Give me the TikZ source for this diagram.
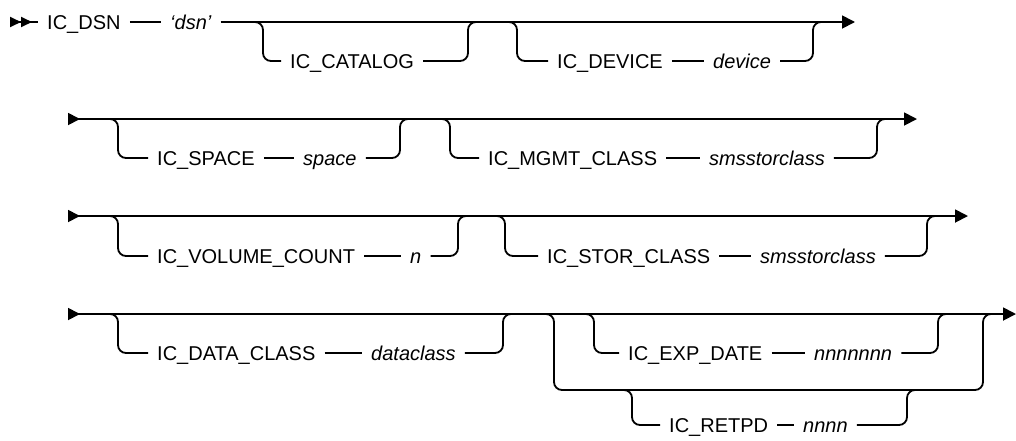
\documentclass[tikz,border=0pt]{standalone}
\usepackage{fontspec}
\setmainfont{Liberation Sans}
\usetikzlibrary{arrows.meta}

\tikzset{
  rail/.style={line width=1.8pt, rounded corners=8pt},
  keyword/.style={anchor=west, inner xsep=9pt, inner ysep=0pt,
    text height=15pt, text depth=1pt, font=\fontsize{20}{24}\selectfont},
  param/.style={keyword, font=\fontsize{20}{24}\selectfont\itshape},
  tipend/.style={-{Triangle[length=13pt,width=13pt]}},
  tipboth/.style={{Triangle[reversed,length=12pt,width=12pt]}-{Triangle[length=13pt,width=13pt]}},
  tipfirst/.style={{Triangle[reversed,length=11pt,width=10pt]Triangle[reversed,length=11pt,width=10pt]}-}
}

\begin{document}
\begin{tikzpicture}[x=1pt,y=-1pt]
\useasboundingbox (0,0) rectangle (1016,440);

% row 1
\coordinate (r1s) at (10,22);
\coordinate (r1e) at (855,22);
\node[keyword] (kwdsn) at (38,22) {IC\_DSN};
\node[param] (pdsn) at (161,22) {‘dsn’};
\draw[rail, tipfirst] (r1s) -- (kwdsn);
\draw[rail] (kwdsn) -- (pdsn);
\draw[rail, tipend] (pdsn) -- (r1e);

\coordinate (catIn) at (255,22);
\coordinate (catOut) at (468,22);
\node[keyword] (kwcat) at (281,61) {IC\_CATALOG};
\draw[rail] (catIn) -- ++(8,0) |- (kwcat);
\draw[rail] (kwcat) -| (catOut) -- ++(8,0);

\coordinate (devIn) at (509,22);
\coordinate (devOut) at (813,22);
\node[keyword] (kwdev) at (548,61) {IC\_DEVICE};
\node[param] (pdev) at (704,61) {device};
\draw[rail] (devIn) -- ++(8,0) |- (kwdev);
\draw[rail] (kwdev) -- (pdev);
\draw[rail] (pdev) -| (devOut) -- ++(8,0);

% row 2
\coordinate (r2s) at (68,119);
\coordinate (r2e) at (917,119);
\draw[rail, tipboth] (r2s) -- (r2e);

\coordinate (spcIn) at (110,119);
\coordinate (spcOut) at (400,119);
\node[keyword] (kwspc) at (148,158) {IC\_SPACE};
\node[param] (pspc) at (294,158) {space};
\draw[rail] (spcIn) -- ++(8,0) |- (kwspc);
\draw[rail] (kwspc) -- (pspc);
\draw[rail] (pspc) -| (spcOut) -- ++(8,0);

\coordinate (mgmIn) at (442,119);
\coordinate (mgmOut) at (877,119);
\node[keyword] (kwmgm) at (479,158) {IC\_MGMT\_CLASS};
\node[param] (pmgm) at (700,158) {smsstorclass};
\draw[rail] (mgmIn) -- ++(8,0) |- (kwmgm);
\draw[rail] (kwmgm) -- (pmgm);
\draw[rail] (pmgm) -| (mgmOut) -- ++(8,0);

% row 3
\coordinate (r3s) at (68,216);
\coordinate (r3e) at (968,216);
\draw[rail, tipboth] (r3s) -- (r3e);

\coordinate (volIn) at (110,216);
\coordinate (volOut) at (458,216);
\node[keyword] (kwvol) at (148,256) {IC\_VOLUME\_COUNT};
\node[param] (pvol) at (401,256) {n};
\draw[rail] (volIn) -- ++(8,0) |- (kwvol);
\draw[rail] (kwvol) -- (pvol);
\draw[rail] (pvol) -| (volOut) -- ++(8,0);

\coordinate (stoIn) at (497,216);
\coordinate (stoOut) at (927,216);
\node[keyword] (kwsto) at (538,256) {IC\_STOR\_CLASS};
\node[param] (psto) at (751,256) {smsstorclass};
\draw[rail] (stoIn) -- ++(8,0) |- (kwsto);
\draw[rail] (kwsto) -- (psto);
\draw[rail] (psto) -| (stoOut) -- ++(8,0);

% row 4
\coordinate (r4s) at (68,314);
\coordinate (r4e) at (1016,314);
\draw[rail, tipboth] (r4s) -- (r4e);

\coordinate (datIn) at (110,314);
\coordinate (datOut) at (503,314);
\node[keyword] (kwdat) at (148,353) {IC\_DATA\_CLASS};
\node[param] (pdat) at (362,353) {dataclass};
\draw[rail] (datIn) -- ++(8,0) |- (kwdat);
\draw[rail] (kwdat) -- (pdat);
\draw[rail] (pdat) -| (datOut) -- ++(8,0);

\coordinate (optIn) at (546,314);
\coordinate (optBot) at (983,390);
\coordinate (optOut) at (983,314);
\draw[rail] (optIn) -- ++(8,0) |- (optBot) -- (optOut) -- ++(8,0);

\coordinate (expIn) at (586,314);
\coordinate (expOut) at (938,314);
\node[keyword] (kwexp) at (619,353) {IC\_EXP\_DATE};
\node[param] (pexp) at (805,353) {nnnnnnn};
\draw[rail] (expIn) -- ++(8,0) |- (kwexp);
\draw[rail] (kwexp) -- (pexp);
\draw[rail] (pexp) -| (expOut) -- ++(8,0);

\coordinate (retIn) at (624,390);
\coordinate (retOut) at (907,390);
\node[keyword] (kwret) at (660,425) {IC\_RETPD};
\node[param] (pret) at (794,425) {nnnn};
\draw[rail] (retIn) -- ++(8,0) |- (kwret);
\draw[rail] (kwret) -- (pret);
\draw[rail] (pret) -| (retOut) -- ++(8,0);
\end{tikzpicture}
\end{document}
